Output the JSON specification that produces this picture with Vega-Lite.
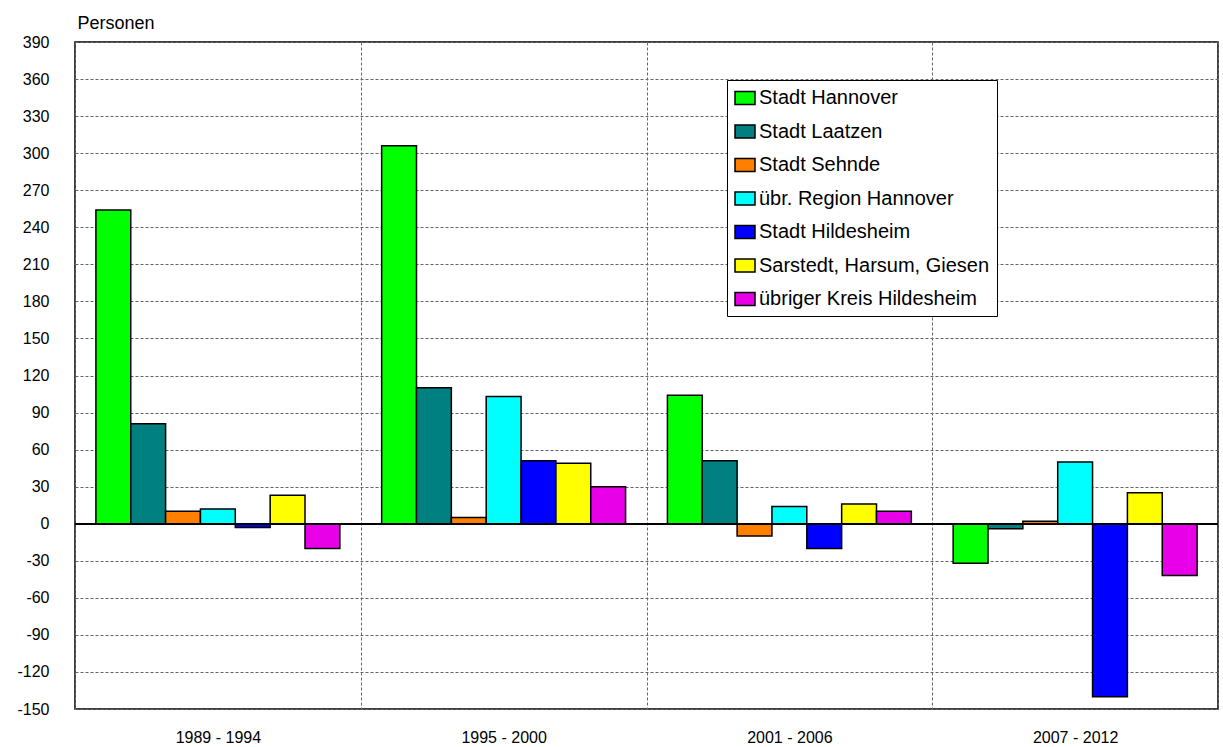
{
  "$schema": "https://vega.github.io/schema/vega-lite/v6.json",
  "autosize": "none",
  "width": 1143,
  "height": 667,
  "padding": {"left": 75, "top": 42, "right": 5, "bottom": 38},
  "background": "white",
  "config": {
    "font": "Liberation Sans",
    "view": {"stroke": "black", "strokeWidth": 1.5},
    "axis": {"labelColor": "black", "titleColor": "black", "labelFont": "Liberation Sans", "titleFont": "Liberation Sans"}
  },
  "data": {
    "values": [
      {"period": "1989 - 1994", "area": "Stadt Hannover", "value": 254},
      {"period": "1989 - 1994", "area": "Stadt Laatzen", "value": 81},
      {"period": "1989 - 1994", "area": "Stadt Sehnde", "value": 10},
      {"period": "1989 - 1994", "area": "übr. Region Hannover", "value": 12},
      {"period": "1989 - 1994", "area": "Stadt Hildesheim", "value": -3},
      {"period": "1989 - 1994", "area": "Sarstedt, Harsum, Giesen", "value": 23},
      {"period": "1989 - 1994", "area": "übriger Kreis Hildesheim", "value": -20},
      {"period": "1995 - 2000", "area": "Stadt Hannover", "value": 306},
      {"period": "1995 - 2000", "area": "Stadt Laatzen", "value": 110},
      {"period": "1995 - 2000", "area": "Stadt Sehnde", "value": 5},
      {"period": "1995 - 2000", "area": "übr. Region Hannover", "value": 103},
      {"period": "1995 - 2000", "area": "Stadt Hildesheim", "value": 51},
      {"period": "1995 - 2000", "area": "Sarstedt, Harsum, Giesen", "value": 49},
      {"period": "1995 - 2000", "area": "übriger Kreis Hildesheim", "value": 30},
      {"period": "2001 - 2006", "area": "Stadt Hannover", "value": 104},
      {"period": "2001 - 2006", "area": "Stadt Laatzen", "value": 51},
      {"period": "2001 - 2006", "area": "Stadt Sehnde", "value": -10},
      {"period": "2001 - 2006", "area": "übr. Region Hannover", "value": 14},
      {"period": "2001 - 2006", "area": "Stadt Hildesheim", "value": -20},
      {"period": "2001 - 2006", "area": "Sarstedt, Harsum, Giesen", "value": 16},
      {"period": "2001 - 2006", "area": "übriger Kreis Hildesheim", "value": 10},
      {"period": "2007 - 2012", "area": "Stadt Hannover", "value": -32},
      {"period": "2007 - 2012", "area": "Stadt Laatzen", "value": -4},
      {"period": "2007 - 2012", "area": "Stadt Sehnde", "value": 2},
      {"period": "2007 - 2012", "area": "übr. Region Hannover", "value": 50},
      {"period": "2007 - 2012", "area": "Stadt Hildesheim", "value": -140},
      {"period": "2007 - 2012", "area": "Sarstedt, Harsum, Giesen", "value": 25},
      {"period": "2007 - 2012", "area": "übriger Kreis Hildesheim", "value": -42}
    ]
  },
  "layer": [
    {
      "mark": {"type": "bar", "stroke": "black", "strokeWidth": 1.5, "opacity": 1},
      "encoding": {
        "x": {
          "field": "period", "type": "nominal", "sort": null,
          "scale": {"paddingInner": 0, "paddingOuter": 0},
          "axis": {
            "title": null, "labelAngle": 0, "labelFontSize": 16, "labelPadding": 20,
            "ticks": false, "domain": false, "grid": true, "tickBand": "extent",
            "gridColor": "#666666", "gridDash": [3, 2], "gridWidth": 1
          }
        },
        "xOffset": {
          "field": "area", "type": "nominal", "sort": null,
          "scale": {"paddingInner": 0, "paddingOuter": 0.6}
        },
        "y": {
          "field": "value", "type": "quantitative",
          "scale": {"domain": [-150, 390], "nice": false, "zero": false},
          "axis": {
            "title": "Personen", "titleAngle": 0, "titleAlign": "left", "titleBaseline": "alphabetic",
            "titleX": 2, "titleY": -14, "titleFontSize": 18, "titleFontWeight": "normal",
            "values": [-150, -120, -90, -60, -30, 0, 30, 60, 90, 120, 150, 180, 210, 240, 270, 300, 330, 360, 390],
            "tickCount": 25,
            "labelExpr": "'' + datum.value", "labelOverlap": false,
            "labelFontSize": 16, "labelPadding": 26, "ticks": false, "domain": false,
            "grid": true, "gridColor": "#666666", "gridDash": [3, 2], "gridWidth": 1
          }
        },
        "color": {
          "field": "area", "type": "nominal", "sort": null,
          "scale": {
            "domain": ["Stadt Hannover", "Stadt Laatzen", "Stadt Sehnde", "übr. Region Hannover", "Stadt Hildesheim", "Sarstedt, Harsum, Giesen", "übriger Kreis Hildesheim"],
            "range": ["#00FF00", "#008080", "#FF8000", "#00FFFF", "#0000FF", "#FFFF00", "#E800E8"]
          },
          "legend": {
            "title": null, "orient": "none", "legendX": 652, "legendY": 38,
            "strokeColor": "black", "fillColor": "white",
            "padding": 7, "rowPadding": 12.5,
            "symbolType": "M-1,-0.65H1V0.65H-1Z", "symbolSize": 400, "symbolStrokeColor": "black", "symbolStrokeWidth": 1.5,
            "symbolOpacity": 1,
            "labelFontSize": 20, "labelFont": "Liberation Sans", "labelColor": "black", "labelOffset": 3, "labelLimit": 500
          }
        }
      }
    },
    {
      "mark": {"type": "rule", "color": "black", "strokeWidth": 1.5},
      "encoding": {"y": {"datum": 0}}
    }
  ]
}
